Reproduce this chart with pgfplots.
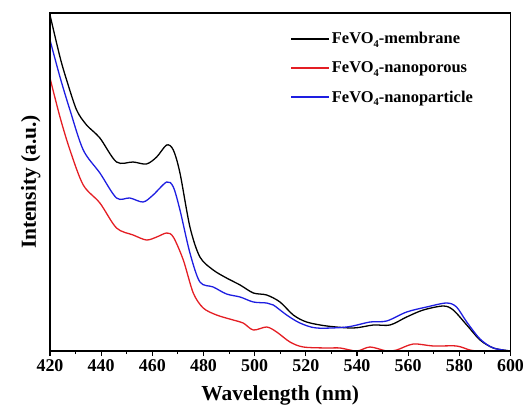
\documentclass[border=0pt]{standalone}
\usepackage{fontspec}
\setmainfont{Liberation Serif}
\usepackage{pgfplots}
\pgfplotsset{compat=1.18}

\definecolor{curvered}{RGB}{228,30,36}
\definecolor{curveblue}{RGB}{30,30,225}
\newcommand{\subfour}{\raisebox{-0.45ex}{\fontsize{10.5}{11}\selectfont 4}}

\begin{document}
\begin{tikzpicture}
\useasboundingbox (-50bp,-58bp) rectangle (477bp,351bp);
\begin{axis}[
  at={(0,0)}, anchor=south west,
  scale only axis, width=460.5bp, height=338bp,
  xmin=420, xmax=600, ymin=0, ymax=338,
  clip=false,
  separate axis lines,
  xtick={420,440,...,600}, minor x tick num=1,
  ytick=\empty,
  xtick pos=bottom, tick align=outside,
  major tick length=5bp, minor tick length=3bp,
  axis line style={draw=black, line width=1.8bp},
  tick style={black, line width=1.1bp},
  /pgf/number format/assume math mode=true,
  /pgf/number format/1000 sep={},
  ticklabel style={font=\bfseries\fontsize{18}{18}\selectfont},
  xlabel={Wavelength (nm)}, ylabel={Intensity (a.u.)},
  xlabel style={at={(axis description cs:0.5,-0.13)}, anchor=center,
    font=\bfseries\fontsize{21.5}{22}\selectfont},
  ylabel style={at={(axis description cs:-0.042,0.5)}, anchor=center, rotate=0,
    font=\bfseries\fontsize{21.5}{22}\selectfont},
  legend cell align=left,
  legend image code/.code={\draw[#1, line width=1.6bp] (0bp,0bp) -- (38bp,0bp);},
  legend style={draw=none, fill=none, at={(axis description cs:0.515,0.955)}, anchor=north west,
    row sep=12.5bp,
    nodes={font=\bfseries\fontsize{16.5}{17}\selectfont}},
]
% FeVO4 membrane
\addplot[black, line width=1.3bp, smooth, tension=0.5] coordinates {
 (420,336) (423.9,294) (426.5,271) (430.4,241) (434.3,226) (439.5,213) (446,189)
 (452.5,189) (457.7,187) (461.7,194) (465.6,206) (468.2,201) (470.8,178) (474.7,124)
 (478.6,94) (483.8,81) (489,73) (494.3,66) (499.5,58) (504.7,56) (509.9,49)
 (515.1,36) (520.3,29) (528.2,25) (538.6,23) (546.4,26) (552.9,26) (559.4,34)
 (565.9,41) (573.7,45) (577.6,41) (582.9,26) (588.1,11) (593.3,3) (600,0)
};
\addlegendentry{FeVO\subfour-membrane}
% FeVO4 nanoporous
\addplot[curvered, line width=1.3bp, smooth, tension=0.5] coordinates {
 (420,273) (423.9,234) (427.8,201) (433,166) (439.5,148) (446,123) (452.5,116)
 (457.7,111) (461.7,114) (465.6,118) (468.2,114) (472.1,91) (476,58) (479.9,43)
 (485.1,36) (491.6,31) (495.5,28) (499.5,21) (504.7,24) (508.6,19) (513.8,9)
 (519,4) (528.2,3) (533.4,3) (539.9,0) (545.1,4) (551.6,0) (555.5,1) (562,7)
 (569.8,5) (578.9,5) (584.1,1) (588,0) (600,0)
};
\addlegendentry{FeVO\subfour-nanoporous}
% FeVO4 nanoparticle
\addplot[curveblue, line width=1.3bp, smooth, tension=0.5] coordinates {
 (420,311) (423.9,274) (427.8,241) (433,201) (439.5,178) (446,153) (451.2,153)
 (456.4,149) (460.3,156) (465.6,169) (468.2,164) (470.8,141) (474.7,98) (478.6,69)
 (483.8,64) (489,57) (494.3,54) (499.5,49) (504.7,48) (507.3,46) (512.5,36)
 (517.7,28) (524.2,23) (536,24) (545.1,29) (551.6,30) (559.4,39) (567.2,44)
 (575,48) (578.9,44) (582.9,29) (588.1,12) (593.3,3) (600,0)
};
\addlegendentry{FeVO\subfour-nanoparticle}
% frame of the plot area, as one open stroke
\draw[black, line width=1.8bp, line cap=rect, line join=miter]
  (rel axis cs:0,0) -- (rel axis cs:1,0) -- (rel axis cs:1,1) -- (rel axis cs:0,1) -- (rel axis cs:0,0);
\end{axis}
\end{tikzpicture}
\end{document}
